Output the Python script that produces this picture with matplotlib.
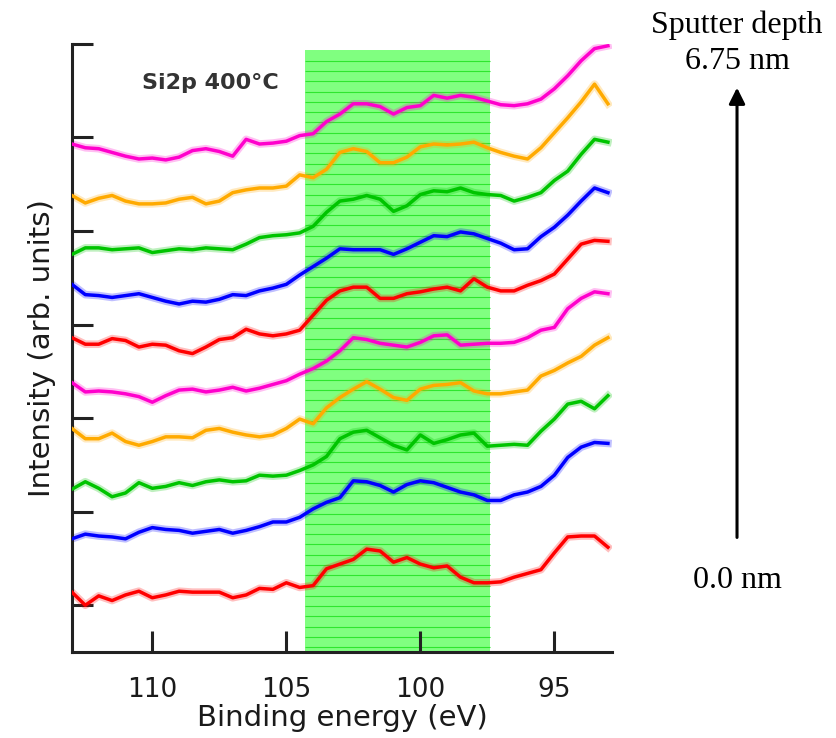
import numpy as np
import matplotlib
matplotlib.use('Agg')
import matplotlib.pyplot as plt

# Si2p XPS depth profile, 400 C anneal; spectra stacked from 0.0 nm (bottom) to 6.75 nm (top)
energy = np.arange(113.0, 92.75, -0.5)

si2p_00 = [0.64, 0.50, 0.60, 0.55, 0.61, 0.65, 0.58, 0.61, 0.65, 0.64, 0.64, 0.64, 0.58, 0.61,
           0.68, 0.67, 0.74, 0.69, 0.71, 0.89, 0.94, 0.99, 1.10, 1.08, 0.96, 1.01, 0.94, 0.90,
           0.92, 0.80, 0.74, 0.74, 0.75, 0.80, 0.84, 0.88, 1.06, 1.23, 1.24, 1.24, 1.12]
si2p_01 = [1.21, 1.26, 1.24, 1.23, 1.21, 1.28, 1.33, 1.31, 1.30, 1.27, 1.29, 1.31, 1.27, 1.30,
           1.34, 1.39, 1.39, 1.44, 1.53, 1.60, 1.65, 1.83, 1.82, 1.78, 1.71, 1.79, 1.83, 1.81,
           1.76, 1.71, 1.68, 1.62, 1.62, 1.68, 1.71, 1.77, 1.89, 2.08, 2.19, 2.24, 2.23]
si2p_02 = [1.74, 1.82, 1.75, 1.66, 1.70, 1.81, 1.75, 1.77, 1.81, 1.78, 1.82, 1.84, 1.82, 1.83,
           1.89, 1.88, 1.89, 1.94, 2.00, 2.09, 2.28, 2.35, 2.37, 2.29, 2.21, 2.16, 2.32, 2.23,
           2.27, 2.32, 2.34, 2.20, 2.21, 2.22, 2.21, 2.36, 2.49, 2.65, 2.68, 2.60, 2.74]
si2p_03 = [2.39, 2.28, 2.28, 2.34, 2.25, 2.21, 2.25, 2.30, 2.30, 2.29, 2.37, 2.39, 2.35, 2.32,
           2.30, 2.32, 2.39, 2.49, 2.44, 2.61, 2.72, 2.81, 2.89, 2.81, 2.72, 2.69, 2.81, 2.85,
           2.86, 2.88, 2.79, 2.76, 2.76, 2.78, 2.80, 2.95, 3.01, 3.09, 3.16, 3.28, 3.36]
si2p_04 = [2.88, 2.78, 2.79, 2.78, 2.76, 2.73, 2.67, 2.74, 2.80, 2.81, 2.78, 2.80, 2.83, 2.79,
           2.82, 2.86, 2.90, 2.97, 3.03, 3.11, 3.22, 3.36, 3.34, 3.30, 3.28, 3.26, 3.31, 3.38,
           3.39, 3.28, 3.29, 3.30, 3.30, 3.31, 3.36, 3.44, 3.47, 3.67, 3.78, 3.85, 3.83]
si2p_05 = [3.36, 3.29, 3.29, 3.35, 3.33, 3.26, 3.29, 3.28, 3.22, 3.19, 3.26, 3.34, 3.36, 3.45,
           3.40, 3.38, 3.40, 3.44, 3.60, 3.76, 3.86, 3.90, 3.90, 3.78, 3.78, 3.83, 3.85, 3.88,
           3.90, 3.86, 3.99, 3.90, 3.86, 3.86, 3.92, 3.97, 4.04, 4.20, 4.36, 4.40, 4.39]
si2p_06 = [3.93, 3.82, 3.81, 3.79, 3.81, 3.83, 3.79, 3.75, 3.72, 3.75, 3.74, 3.77, 3.82, 3.81,
           3.86, 3.89, 3.93, 4.03, 4.12, 4.21, 4.31, 4.30, 4.30, 4.30, 4.25, 4.31, 4.38, 4.45,
           4.44, 4.49, 4.47, 4.42, 4.37, 4.30, 4.31, 4.44, 4.54, 4.67, 4.82, 4.96, 4.91]
si2p_07 = [4.25, 4.32, 4.32, 4.30, 4.31, 4.32, 4.27, 4.29, 4.31, 4.30, 4.32, 4.31, 4.30, 4.36,
           4.43, 4.45, 4.46, 4.48, 4.55, 4.70, 4.82, 4.84, 4.88, 4.84, 4.71, 4.77, 4.89, 4.93,
           4.92, 4.96, 4.91, 4.89, 4.88, 4.82, 4.86, 4.91, 5.04, 5.14, 5.32, 5.48, 5.45]
si2p_08 = [4.88, 4.80, 4.85, 4.88, 4.82, 4.79, 4.79, 4.80, 4.84, 4.86, 4.79, 4.82, 4.91, 4.94,
           4.96, 4.96, 4.98, 5.10, 5.07, 5.16, 5.34, 5.38, 5.35, 5.23, 5.23, 5.29, 5.40, 5.43,
           5.42, 5.43, 5.45, 5.39, 5.34, 5.30, 5.27, 5.39, 5.55, 5.71, 5.88, 6.07, 5.86]
si2p_09 = [5.43, 5.39, 5.38, 5.34, 5.30, 5.27, 5.28, 5.26, 5.29, 5.36, 5.38, 5.35, 5.30, 5.48,
           5.43, 5.44, 5.46, 5.52, 5.54, 5.67, 5.75, 5.86, 5.86, 5.83, 5.75, 5.82, 5.84, 5.95,
           5.92, 5.95, 5.93, 5.89, 5.85, 5.84, 5.86, 5.91, 6.02, 6.16, 6.32, 6.45, 6.48]

spectra = [si2p_00, si2p_01, si2p_02, si2p_03, si2p_04,
           si2p_05, si2p_06, si2p_07, si2p_08, si2p_09]
colors = ['#ff0000', '#0000ff', '#00c400', '#ffaa00', '#ff00cc'] * 2

band_lo, band_hi = 97.4, 104.32     # highlighted Si-oxide region (eV)
xticks = [110, 105, 100, 95]
yticks = [0.5, 1.5, 2.5, 3.5, 4.5, 5.5, 6.5]

fig = plt.figure(figsize=(8.36, 7.38), dpi=100)
ax = fig.add_axes([0.086, 0.1165, 0.646, 0.824])

ax.set_xlim(113.0, 92.85)
ax.set_ylim(0, 6.5)

# green band with fine horizontal rulings
band_top = 6.43
ax.fill_between([band_hi, band_lo], 0, band_top, color='#80ff80', lw=0, zorder=1)
ax.hlines(np.arange(0.05, band_top, 0.11), band_lo, band_hi, colors='#2ee62e', lw=0.8, zorder=1.5)

for s, c in zip(spectra, colors):
    ax.plot(energy, s, color=c, lw=5.5, alpha=0.25, solid_joinstyle='round', zorder=2)
    ax.plot(energy, s, color=c, lw=2.5, solid_joinstyle='round', zorder=3)

for side in ['top', 'right']:
    ax.spines[side].set_visible(False)
for side in ['left', 'bottom']:
    ax.spines[side].set_linewidth(2.2)
    ax.spines[side].set_color('#222222')

ax.set_xticks(xticks)
ax.set_yticks(yticks)
ax.set_yticklabels([])
ax.tick_params(axis='both', direction='in', length=15, width=2.2, color='#222222')
ax.tick_params(axis='x', labelsize=19, pad=18, labelcolor='#1a1a1a')
ax.set_xlabel('Binding energy (eV)', fontsize=21, labelpad=1, color='#1a1a1a')
ax.set_ylabel('Intensity (arb. units)', fontsize=21, labelpad=8, color='#1a1a1a')
ax.text(0.13, 0.935, 'Si2p 400\u00b0C', transform=ax.transAxes, fontsize=16,
        fontweight='bold', color='#333333', va='center', ha='left')

# sputter depth arrow at the right
serif = ['Liberation Serif', 'DejaVu Serif']
fig.text(0.8816, 0.966, 'Sputter depth', family=serif, fontsize=23, ha='center', va='center')
fig.text(0.8816, 0.916, '6.75 nm', family=serif, fontsize=23, ha='center', va='center')
fig.text(0.8816, 0.214, '0.0 nm', family=serif, fontsize=23, ha='center', va='center')
fig.add_artist(matplotlib.patches.FancyArrowPatch(
    (0.8816, 0.268), (0.8816, 0.885), transform=fig.transFigure,
    arrowstyle='-|>', mutation_scale=24, lw=2.2, color='black'))

fig.savefig('out.png', dpi=100)
